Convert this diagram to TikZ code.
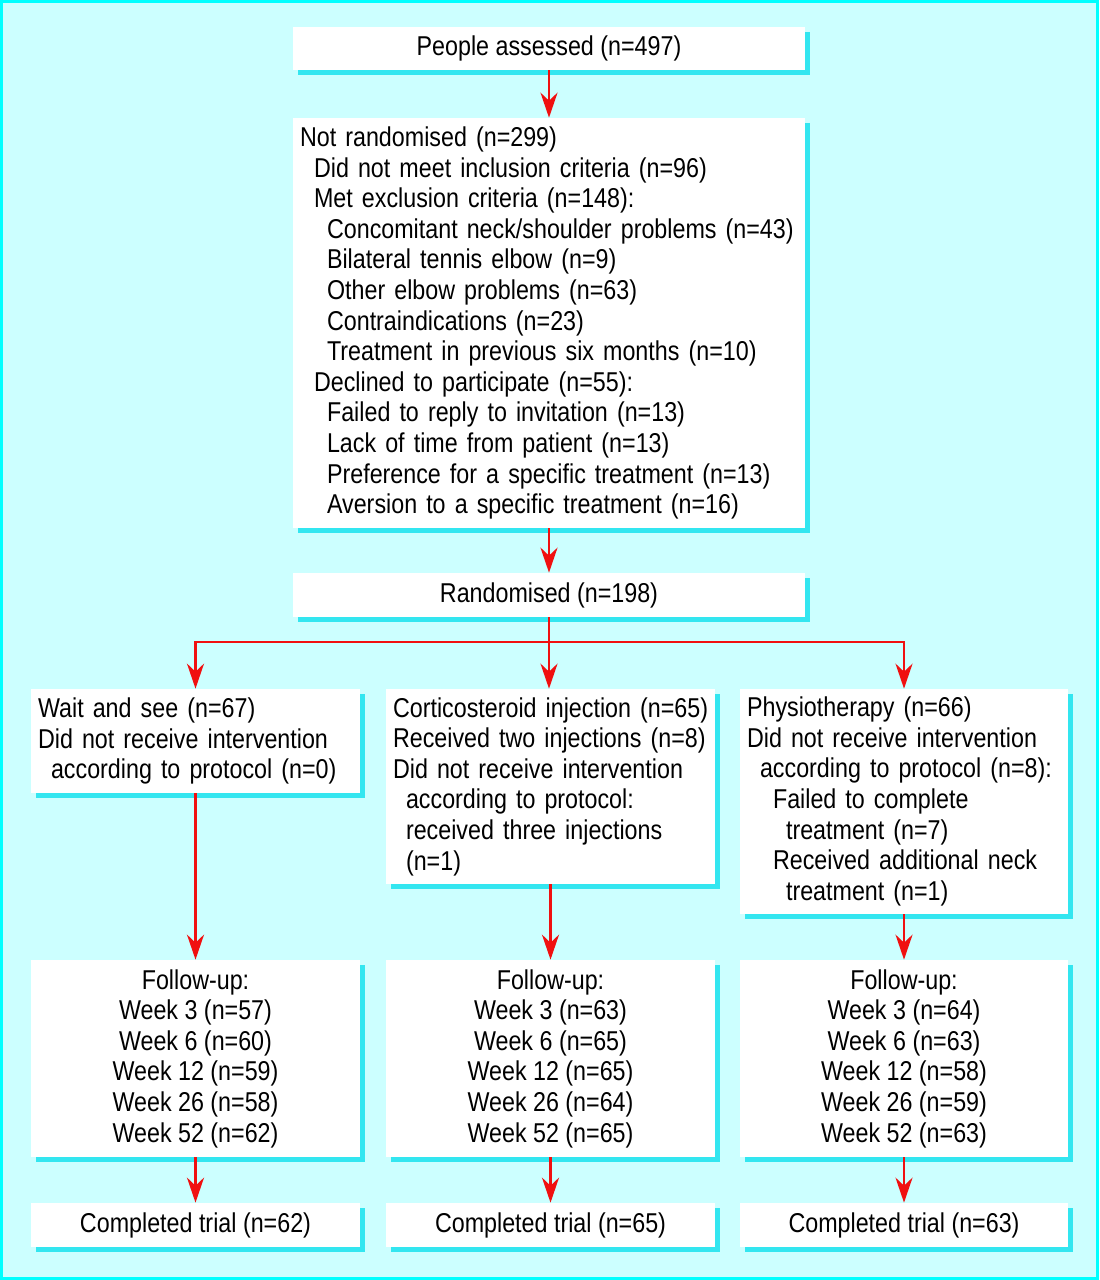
\documentclass[tikz,border=0pt]{standalone}
\usepackage{fontspec}
\setmainfont[FakeStretch=0.855]{Liberation Sans}
\usetikzlibrary{arrows.meta,shadows}
\definecolor{bgc}{RGB}{204,255,255}
\definecolor{bdc}{RGB}{0,255,255}
\definecolor{shc}{RGB}{51,230,240}
\definecolor{redc}{RGB}{240,16,16}
\newcommand\lne[1]{\mbox{#1}}
\begin{document}
\begin{tikzpicture}[x=0.02cm,y=-0.02cm,
  box/.style={fill=white, draw=none,
    drop shadow={shadow xshift=0.1cm, shadow yshift=-0.1cm, fill=shc, opacity=1},
    inner xsep=0.14cm, inner ysep=0pt, font=\fontsize{15.5}{17.42}\selectfont},
  lbox/.style={box, align=left},
  cbox/.style={box, align=center},
  redline/.style={draw=redc, line width=0.05cm},
  arr/.style={redline, -{Stealth[length=0.5cm,width=0.34cm,inset=0.16cm]}},
]
\useasboundingbox (0,0) rectangle (1099,1280);
\fill[bgc] (0,0) rectangle (1099,1280);
\draw[bdc, line width=0.06cm] (1.5,1.5) rectangle (1097.5,1278.5);

\node[cbox, minimum width=10.24cm, minimum height=0.86cm] (assess) at (549,48.5) {People assessed (n=497)};

\node[lbox, text width=9.96cm, minimum height=8.2cm] (notrand) at (549,323) {%
\lne{Not randomised (n=299)}\\
\hspace*{0.28cm}\lne{Did not meet inclusion criteria (n=96)}\\
\hspace*{0.28cm}\lne{Met exclusion criteria (n=148):}\\
\hspace*{0.54cm}\lne{Concomitant neck/shoulder problems (n=43)}\\
\hspace*{0.54cm}\lne{Bilateral tennis elbow (n=9)}\\
\hspace*{0.54cm}\lne{Other elbow problems (n=63)}\\
\hspace*{0.54cm}\lne{Contraindications (n=23)}\\
\hspace*{0.54cm}\lne{Treatment in previous six months (n=10)}\\
\hspace*{0.28cm}\lne{Declined to participate (n=55):}\\
\hspace*{0.54cm}\lne{Failed to reply to invitation (n=13)}\\
\hspace*{0.54cm}\lne{Lack of time from patient (n=13)}\\
\hspace*{0.54cm}\lne{Preference for a specific treatment (n=13)}\\
\hspace*{0.54cm}\lne{Aversion to a specific treatment (n=16)}};

\node[cbox, minimum width=10.24cm, minimum height=0.88cm] (rand) at (549,595) {Randomised (n=198)};

\node[lbox, text width=6.30cm, minimum height=2.08cm] (wait) at (195.5,741) {%
\lne{Wait and see (n=67)}\\
\lne{Did not receive intervention}\\
\hspace*{0.26cm}\lne{according to protocol (n=0)}};

\node[lbox, text width=6.30cm, minimum height=3.9cm] (cortico) at (550.5,786.5) {%
\lne{Corticosteroid injection (n=65)}\\
\lne{Received two injections (n=8)}\\
\lne{Did not receive intervention}\\
\hspace*{0.26cm}\lne{according to protocol:}\\
\hspace*{0.26cm}\lne{received three injections}\\
\hspace*{0.26cm}\lne{(n=1)}};

\node[lbox, text width=6.28cm, minimum height=4.5cm] (physio) at (904,801.5) {%
\lne{Physiotherapy (n=66)}\\
\lne{Did not receive intervention}\\
\hspace*{0.26cm}\lne{according to protocol (n=8):}\\
\hspace*{0.52cm}\lne{Failed to complete}\\
\hspace*{0.78cm}\lne{treatment (n=7)}\\
\hspace*{0.52cm}\lne{Received additional neck}\\
\hspace*{0.78cm}\lne{treatment (n=1)}};

\node[cbox, minimum width=6.58cm, minimum height=3.94cm] (fu1) at (195.5,1058.5) {Follow-up:\\Week 3 (n=57)\\Week 6 (n=60)\\Week 12 (n=59)\\Week 26 (n=58)\\Week 52 (n=62)};
\node[cbox, minimum width=6.58cm, minimum height=3.94cm] (fu2) at (550.5,1058.5) {Follow-up:\\Week 3 (n=63)\\Week 6 (n=65)\\Week 12 (n=65)\\Week 26 (n=64)\\Week 52 (n=65)};
\node[cbox, minimum width=6.56cm, minimum height=3.94cm] (fu3) at (904,1058.5) {Follow-up:\\Week 3 (n=64)\\Week 6 (n=63)\\Week 12 (n=58)\\Week 26 (n=59)\\Week 52 (n=63)};

\node[cbox, minimum width=6.58cm, minimum height=0.88cm] (done1) at (195.5,1225) {Completed trial (n=62)};
\node[cbox, minimum width=6.58cm, minimum height=0.88cm] (done2) at (550.5,1225) {Completed trial (n=65)};
\node[cbox, minimum width=6.56cm, minimum height=0.88cm] (done3) at (904,1225) {Completed trial (n=63)};

\coordinate (branch) at (549,642);

\draw[arr] (assess.south) -- (notrand.north);
\draw[arr] (notrand.south) -- (rand.north);
\draw[redline] (rand.south) -- (branch);
\draw[arr] (branch) -| (wait.north);
\draw[arr] (branch) -| (physio.north);
\draw[arr] (branch) -- (branch |- cortico.north);
\draw[arr] (wait.south) -- (fu1.north);
\draw[arr] (cortico.south) -- (fu2.north);
\draw[arr] (physio.south) -- (fu3.north);
\draw[arr] (fu1.south) -- (done1.north);
\draw[arr] (fu2.south) -- (done2.north);
\draw[arr] (fu3.south) -- (done3.north);
\end{tikzpicture}
\end{document}
